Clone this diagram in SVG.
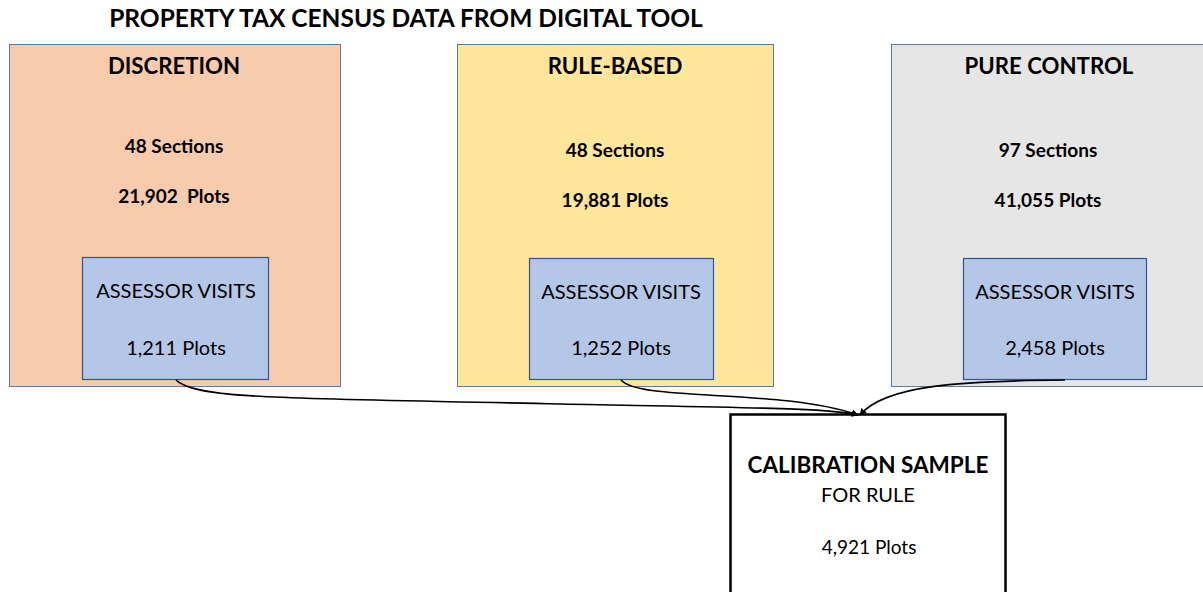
<svg xmlns="http://www.w3.org/2000/svg" width="1203" height="592" viewBox="0 0 1203 592">
<defs>
<style>
text{font-family:Lato,"Open Sans","Liberation Sans",sans-serif;fill:#000;text-anchor:middle}
.b{font-weight:bold}
.outer{stroke:#5a7ca3;stroke-width:1}
.inner{fill:#b4c7e7;stroke:#2f5597;stroke-width:1.2}
.conn{fill:none;stroke:#000;stroke-width:1.6;marker-end:url(#ah)}
</style>
<marker id="ah" viewBox="0 0 10 10" refX="9" refY="5" markerWidth="7" markerHeight="7" orient="auto" markerUnits="userSpaceOnUse">
<path d="M0,0 L10,5 L0,10 Z" fill="#000"/>
</marker>
</defs>
<rect width="1203" height="592" fill="#fff"/>
<text id="title" class="b" x="406" y="27" font-size="24.5">PROPERTY TAX CENSUS DATA FROM DIGITAL TOOL</text>
<g id="discretion">
<rect class="outer" x="9.5" y="44.5" width="331" height="342" fill="#f8cbad"/>
<text class="b" x="174" y="74" font-size="22.2">DISCRETION</text>
<text class="b" x="174" y="153" font-size="19">48 Sections</text>
<text class="b" x="174" y="203" font-size="19" xml:space="preserve">21,902  Plots</text>
</g>
<g id="discretion-visits">
<rect class="inner" x="82.5" y="257.5" width="186" height="122"/>
<text x="176" y="298" font-size="20">ASSESSOR VISITS</text>
<text x="176" y="355" font-size="20">1,211 Plots</text>
</g>
<g id="rule-based">
<rect class="outer" x="457.5" y="44.5" width="316" height="342" fill="#ffe699"/>
<text class="b" x="615" y="74" font-size="22.2">RULE-BASED</text>
<text class="b" x="615" y="157" font-size="19">48 Sections</text>
<text class="b" x="615" y="207" font-size="19">19,881 Plots</text>
</g>
<g id="rule-visits">
<rect class="inner" x="529.5" y="258.5" width="184" height="121"/>
<text x="621" y="299" font-size="20">ASSESSOR VISITS</text>
<text x="621" y="355" font-size="20">1,252 Plots</text>
</g>
<g id="pure-control">
<rect class="outer" x="891.5" y="44.5" width="313" height="342" fill="#e7e6e6"/>
<text class="b" x="1049" y="74" font-size="22.2">PURE CONTROL</text>
<text class="b" x="1048" y="157" font-size="19">97 Sections</text>
<text class="b" x="1048" y="207" font-size="19">41,055 Plots</text>
</g>
<g id="control-visits">
<rect class="inner" x="963.5" y="258.5" width="183" height="121"/>
<text x="1055" y="299" font-size="20">ASSESSOR VISITS</text>
<text x="1055" y="355" font-size="20">2,458 Plots</text>
</g>
<g id="calibration">
<rect x="730.5" y="414.5" width="275" height="190" fill="#fff" stroke="#000" stroke-width="2.5"/>
<text class="b" x="868" y="473" font-size="22.5">CALIBRATION SAMPLE</text>
<text x="868" y="502" font-size="20">FOR RULE</text>
<text x="869" y="554" font-size="19">4,921 Plots</text>
</g>
<g id="connectors">
<path class="conn" d="M176,380 C195,400 300,398 560,404 C760,408 830,408 858,415"/>
<path class="conn" d="M621,380 C640,402 780,388 858,415"/>
<path class="conn" d="M1065,380 C960,381 885,385 860,415"/>
</g>
</svg>
